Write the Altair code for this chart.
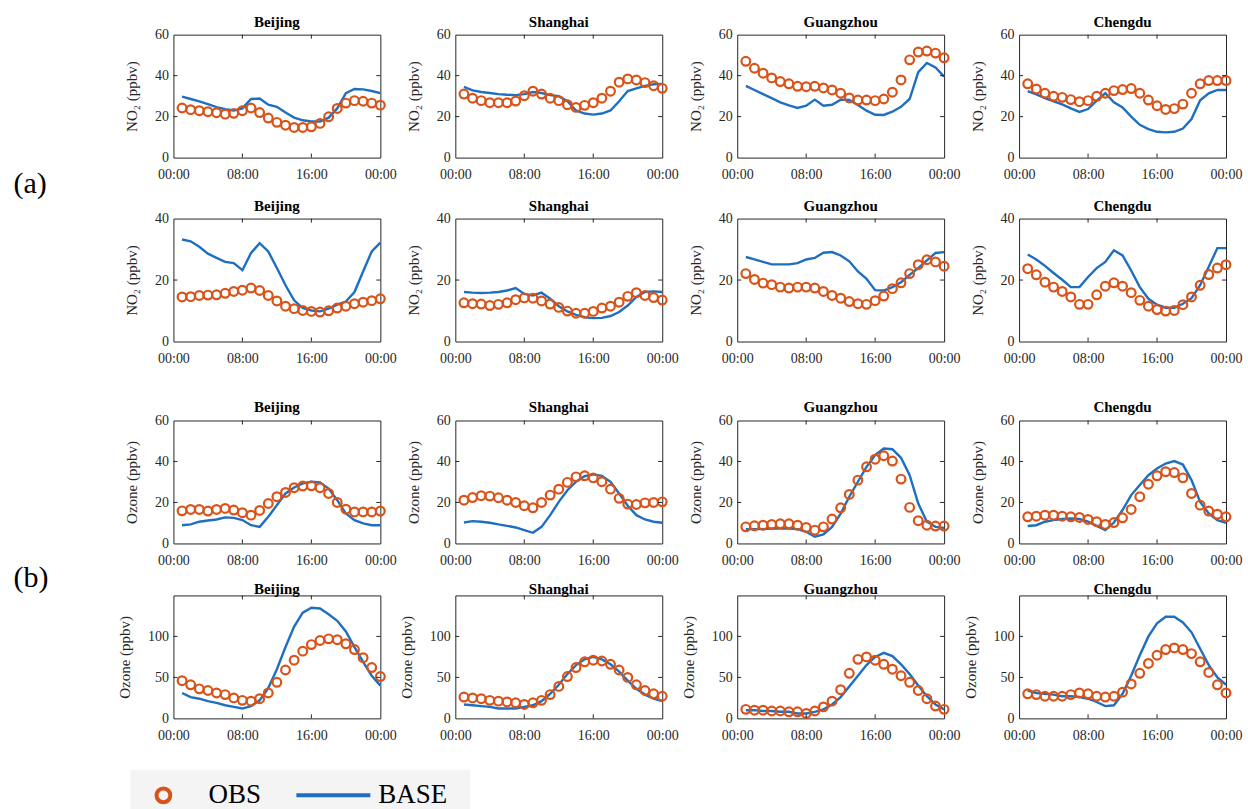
import altair as alt
import pandas as pd

# Hours of the day at which the diurnal means are reported
HOURS = list(range(1, 25))
CITIES = ["Beijing", "Shanghai", "Guangzhou", "Chengdu"]

# ---- (a) NO2, first season -------------------------------------------------
bj1_obs = [24.2, 23.4, 22.9, 22.4, 21.9, 21.2, 21.6, 22.9, 24.2, 22.0, 19.3, 17.2,
           15.8, 14.7, 14.7, 15.0, 16.7, 19.9, 24.0, 26.6, 27.8, 27.5, 26.6, 25.6]
bj1_base = [29.8, 28.6, 27.4, 26.1, 24.6, 23.6, 23.0, 24.0, 28.6, 28.8, 25.8, 24.8,
            22.0, 19.5, 18.2, 17.6, 17.6, 19.5, 24.0, 31.5, 33.5, 33.3, 32.5, 31.5]
sh1_obs = [31.0, 29.0, 27.8, 26.8, 26.8, 26.8, 27.6, 30.2, 32.4, 31.0, 29.0, 27.8,
           25.8, 24.5, 25.5, 26.8, 29.0, 32.4, 36.8, 38.4, 37.9, 36.6, 35.1, 33.8]
sh1_base = [34.5, 32.8, 32.0, 31.5, 31.0, 30.7, 30.5, 31.0, 32.0, 31.5, 30.5, 30.0,
            27.5, 23.0, 21.5, 21.0, 21.5, 23.0, 27.5, 32.5, 33.8, 35.0, 35.8, 36.0]
gz1_obs = [47.0, 43.6, 41.2, 38.9, 37.1, 36.0, 34.8, 34.6, 34.8, 34.0, 33.0, 31.4,
           29.1, 28.1, 28.1, 27.8, 28.6, 31.9, 37.9, 47.7, 51.5, 52.0, 51.0, 48.7]
gz1_base = [35.0, 33.0, 31.0, 29.0, 27.0, 25.5, 24.2, 25.3, 28.3, 25.3, 25.8, 28.3,
            28.1, 25.7, 22.9, 20.9, 20.8, 22.4, 24.8, 28.6, 41.7, 46.2, 44.0, 39.5]
cd1_obs = [36.0, 33.5, 31.4, 29.9, 29.4, 28.3, 27.3, 27.8, 29.9, 31.4, 32.7, 33.2,
           33.7, 31.4, 28.1, 25.3, 23.5, 23.9, 26.1, 31.4, 36.0, 37.6, 37.6, 37.6]
cd1_base = [32.4, 30.8, 29.0, 27.5, 26.0, 24.0, 22.3, 23.7, 27.8, 31.4, 27.0, 24.5,
            20.0, 16.0, 13.9, 12.6, 12.3, 12.6, 14.2, 18.8, 28.0, 31.4, 33.0, 33.0]

# ---- (a) NO2, second season ------------------------------------------------
bj2_obs = [14.5, 14.6, 15.0, 15.1, 15.2, 15.7, 16.3, 16.7, 17.4, 16.6, 15.0, 13.2,
           11.5, 10.7, 10.1, 9.8, 9.6, 10.0, 10.9, 11.5, 12.3, 12.8, 13.3, 13.9]
bj2_base = [33.2, 32.6, 30.8, 28.6, 27.2, 25.9, 25.5, 23.2, 28.8, 32.0, 29.3, 23.9,
            18.3, 13.4, 10.9, 10.1, 9.8, 10.7, 12.0, 13.0, 16.1, 22.8, 29.3, 32.2]
sh2_obs = [12.6, 12.3, 12.2, 11.7, 12.1, 12.6, 13.6, 14.2, 14.1, 13.2, 12.2, 11.1,
           9.9, 9.2, 9.2, 9.8, 10.9, 11.5, 12.8, 14.7, 15.9, 15.0, 14.3, 13.5]
sh2_base = [16.1, 15.9, 15.8, 15.9, 16.1, 16.6, 17.4, 15.5, 15.0, 15.9, 13.9, 11.5,
            9.8, 8.7, 7.9, 7.6, 7.7, 8.3, 9.6, 11.7, 14.5, 16.1, 16.3, 16.1]
gz2_obs = [22.1, 20.2, 19.0, 18.5, 17.7, 17.4, 17.7, 17.7, 17.4, 16.3, 15.0, 14.1,
           13.0, 12.3, 12.1, 13.3, 14.8, 17.2, 19.1, 22.1, 25.0, 26.6, 25.9, 24.5]
gz2_base = [27.5, 26.7, 25.9, 25.1, 25.1, 25.1, 25.5, 26.7, 27.2, 28.9, 29.1, 28.0,
            26.1, 22.8, 20.4, 16.7, 16.6, 17.7, 19.3, 21.7, 23.9, 26.4, 28.8, 29.1]
cd2_obs = [23.7, 21.7, 19.3, 17.7, 16.3, 14.5, 12.1, 12.1, 15.2, 18.0, 19.1, 18.0,
           15.9, 13.4, 11.5, 10.4, 9.9, 10.1, 12.0, 14.5, 18.3, 21.8, 23.9, 25.0]
cd2_base = [28.3, 26.7, 24.6, 22.3, 20.1, 17.7, 17.7, 21.0, 23.9, 25.9, 29.7, 28.0,
            23.1, 17.7, 13.9, 12.0, 11.0, 11.0, 12.3, 14.1, 18.3, 24.3, 30.4, 30.4]

# ---- (b) Ozone, first season -----------------------------------------------
bj3_obs = [15.9, 16.6, 16.6, 15.8, 16.6, 17.1, 16.3, 15.0, 13.8, 16.1, 19.5, 22.8,
           24.9, 27.2, 28.0, 28.1, 27.2, 24.4, 20.0, 16.7, 15.4, 15.4, 15.4, 15.8]
bj3_base = [8.9, 9.3, 10.6, 11.2, 11.7, 12.7, 12.5, 11.4, 8.9, 8.1, 13.0, 18.7,
            24.4, 27.3, 29.3, 30.1, 29.8, 26.8, 21.1, 14.6, 11.4, 9.8, 8.9, 8.9]
sh3_obs = [21.1, 22.4, 23.3, 23.1, 22.3, 21.1, 20.0, 18.4, 17.4, 20.0, 23.6, 26.5,
           29.8, 32.5, 33.0, 32.0, 30.1, 26.5, 22.0, 19.2, 19.0, 19.8, 20.0, 20.3]
sh3_base = [10.2, 10.9, 10.6, 10.1, 9.3, 8.6, 7.8, 6.5, 5.2, 8.1, 13.8, 20.3,
            26.0, 30.1, 32.8, 33.7, 33.0, 30.1, 24.4, 18.4, 13.8, 11.7, 10.6, 10.1]
gz3_obs = [8.1, 8.6, 8.9, 9.3, 9.6, 9.6, 8.9, 7.8, 6.5, 8.1, 11.9, 17.4,
           23.9, 30.9, 37.4, 41.1, 42.8, 40.2, 31.4, 17.6, 11.1, 8.9, 8.5, 8.5]
gz3_base = [7.0, 7.0, 7.0, 7.3, 7.3, 7.3, 7.0, 5.7, 3.3, 4.4, 8.1, 14.6,
            22.8, 30.1, 37.4, 43.1, 46.3, 46.0, 41.8, 33.3, 19.5, 10.6, 8.1, 7.6]
cd3_obs = [13.0, 13.3, 13.8, 13.8, 13.3, 13.0, 12.7, 11.7, 10.6, 9.3, 10.2, 12.5,
           16.6, 22.8, 28.9, 33.0, 35.0, 34.6, 32.0, 24.4, 18.7, 15.8, 14.3, 13.0]
cd3_base = [8.5, 8.9, 10.6, 11.4, 11.9, 12.2, 11.9, 10.6, 8.6, 6.5, 10.2, 16.3,
            23.6, 28.5, 33.3, 36.6, 39.0, 40.2, 38.5, 30.9, 20.3, 14.6, 11.4, 10.1]

# ---- (b) Ozone, second season ----------------------------------------------
bj4_obs = [46, 41, 36, 34, 31, 29, 25, 22, 21, 24, 31, 44,
           59, 71, 82, 90, 95, 97, 96, 91, 84, 74, 62, 51]
bj4_base = [31, 26, 24, 21, 19, 16, 14, 12, 15, 22, 37, 60,
            87, 112, 129, 135, 134, 127, 119, 106, 87, 69, 52, 40]
sh4_obs = [26, 25, 24, 22, 21, 20, 19, 17, 19, 22, 29, 39,
           51, 62, 69, 71, 70, 66, 59, 50, 41, 34, 30, 27]
sh4_base = [17, 16, 15, 14, 12, 12, 12, 14, 16, 21, 30, 41,
            54, 65, 72, 75, 72, 66, 57, 46, 36, 29, 24, 21]
gz4_obs = [11, 10, 10, 9, 9, 8, 8, 6, 9, 14, 21, 35,
           55, 72, 75, 71, 66, 60, 52, 44, 34, 24, 15, 11]
gz4_base = [10, 10, 9, 9, 8, 8, 6, 6, 8, 11, 17, 26,
            39, 52, 65, 75, 80, 76, 66, 54, 40, 27, 17, 11]
cd4_obs = [30, 29, 27, 27, 27, 29, 31, 30, 27, 26, 27, 32,
           42, 55, 67, 77, 84, 86, 84, 79, 69, 56, 41, 31]
cd4_base = [34, 31, 30, 29, 27, 27, 26, 24, 20, 15, 16, 30,
            52, 77, 100, 116, 124, 124, 117, 105, 85, 65, 50, 41]

OBS_COLOR = "#D95319"
BASE_COLOR = "#1F6FC0"
AXIS_COLOR = "#262626"
FONT = "Liberation Serif"
W, H = 207, 123          # plot box of every panel
COL_GAP = 75             # gap between neighbouring plot boxes
ROW_GAP = -250           # large negative gap: each row then starts where the
                         # invisible guide of the row above ends
GUIDE_X = -84            # left edge of the margin column, relative to the spacer

HOUR_LABELS = ("datum.value == 8 ? '08:00' : datum.value == 16 ? '16:00' : '00:00'")
ONE = pd.DataFrame({"k": [0]})


def panel(city, obs, base, ydom, yticks, ytitle):
    df = pd.DataFrame({
        "hour": HOURS * 2,
        "val": list(obs) + list(base),
        "series": ["OBS"] * len(obs) + ["BASE"] * len(base),
    })
    xenc = alt.X("hour:Q", scale=alt.Scale(domain=[0, 24], nice=False, zero=False),
                 axis=alt.Axis(values=[0, 8, 16, 24], labelExpr=HOUR_LABELS, title=None))
    yenc = alt.Y("val:Q", scale=alt.Scale(domain=ydom, nice=False),
                 axis=alt.Axis(values=yticks, title=ytitle))

    line = (alt.Chart(df).transform_filter("datum.series == 'BASE'")
            .mark_line(color=BASE_COLOR, strokeWidth=2.4)
            .encode(x=xenc, y=yenc))
    pts = (alt.Chart(df).transform_filter("datum.series == 'OBS'")
           .mark_point(shape="circle", filled=False, color=OBS_COLOR, size=76,
                       strokeWidth=2.2, opacity=1)
           .encode(x=xenc, y=yenc))

    # inward ticks on all four sides of the box
    xt = pd.DataFrame({"hour": [8, 16]})
    yt = pd.DataFrame({"val": [v for v in yticks if ydom[0] < v < ydom[1]]})
    tick = dict(color=AXIS_COLOR, strokeWidth=1)
    xb = alt.Chart(xt).mark_rule(**tick).encode(x=xenc, y=alt.value(H), y2=alt.value(H - 4))
    xtp = alt.Chart(xt).mark_rule(**tick).encode(x=xenc, y=alt.value(0), y2=alt.value(4))
    yl = alt.Chart(yt).mark_rule(**tick).encode(y=yenc, x=alt.value(0), x2=alt.value(4))
    yr = alt.Chart(yt).mark_rule(**tick).encode(y=yenc, x=alt.value(W), x2=alt.value(W - 4))

    return alt.layer(line, pts, xb, xtp, yl, yr).properties(
        width=W, height=H, title=alt.TitleParams(city, offset=0, dy=2))


def tag(label, dy):
    return (alt.Chart(pd.DataFrame({"t": [label]}))
            .mark_text(align="left", baseline="middle", font=FONT, fontSize=30, color="black")
            .encode(text="t:N", x=alt.value(GUIDE_X), y=alt.value(dy)))


def legend_layers():
    s = pd.DataFrame({"s": ["OBS"]})
    b = pd.DataFrame({"s": ["BASE"]})
    ly = 200
    return [
        alt.Chart(ONE).mark_rect(color="#f4f4f4")
        .encode(x=alt.value(33), x2=alt.value(373), y=alt.value(175), y2=alt.value(214)),
        alt.Chart(s).mark_point(shape="circle", filled=False, color=OBS_COLOR, size=190,
                                strokeWidth=4, opacity=1)
        .encode(x=alt.value(66), y=alt.value(ly)),
        alt.Chart(s).mark_text(align="left", baseline="middle", font=FONT, fontSize=27,
                               color="black")
        .encode(text="s:N", x=alt.value(111), y=alt.value(ly)),
        alt.Chart(b).mark_rule(color=BASE_COLOR, strokeWidth=4)
        .encode(x=alt.value(199), x2=alt.value(273), y=alt.value(ly)),
        alt.Chart(b).mark_text(align="left", baseline="middle", font=FONT, fontSize=27,
                               color="black")
        .encode(text="s:N", x=alt.value(281), y=alt.value(ly)),
    ]


def spacer(bottom_ext, extras=()):
    """Narrow margin column: an invisible guide fixes how far the row reaches
    below its plot boxes (and so where the next row starts); it also carries
    the panel tags and the legend."""
    guide = (alt.Chart(ONE).mark_rule(opacity=0, strokeOpacity=0)
             .encode(x=alt.value(GUIDE_X), y=alt.value(-30),
                     y2=alt.value(H + bottom_ext)))
    return alt.layer(guide, *extras).properties(
        width=1, height=H, view=alt.ViewBackground(stroke="transparent"))


NO2 = "NO\u2082 (ppbv)"
O3 = "Ozone (ppbv)"

row1_data = [(bj1_obs, bj1_base), (sh1_obs, sh1_base), (gz1_obs, gz1_base), (cd1_obs, cd1_base)]
row2_data = [(bj2_obs, bj2_base), (sh2_obs, sh2_base), (gz2_obs, gz2_base), (cd2_obs, cd2_base)]
row3_data = [(bj3_obs, bj3_base), (sh3_obs, sh3_base), (gz3_obs, gz3_base), (cd3_obs, cd3_base)]
row4_data = [(bj4_obs, bj4_base), (sh4_obs, sh4_base), (gz4_obs, gz4_base), (cd4_obs, cd4_base)]


def row(data, ydom, yticks, ytitle, margin):
    panels = [panel(city, o, b, ydom, yticks, ytitle) for city, (o, b) in zip(CITIES, data)]
    return alt.hconcat(margin, *panels, spacing=COL_GAP, bounds="flush")


# row pitch = H + bottom_ext + 1
r1 = row(row1_data, [0, 60], [0, 20, 40, 60], NO2, spacer(60))
r2 = row(row2_data, [0, 40], [0, 20, 40], NO2, spacer(78, [tag("(a)", -35)]))
r3 = row(row3_data, [0, 60], [0, 20, 40, 60], O3, spacer(51))
r4 = row(row4_data, [0, 150], [0, 50, 100], O3, spacer(91, [tag("(b)", -17)] + legend_layers()))

chart = (
    alt.vconcat(r1, r2, r3, r4, spacing=ROW_GAP, bounds="full")
    .properties(padding={"left": 12.5, "top": 3.5, "right": 5, "bottom": 0},
                background="white")
    .configure_view(stroke=AXIS_COLOR, strokeWidth=1)
    .configure_axis(labelFont=FONT, labelFontSize=14, labelColor=AXIS_COLOR,
                    titleFont=FONT, titleFontSize=15, titleFontWeight="normal",
                    titleColor=AXIS_COLOR, ticks=False, domain=False, grid=False)
    .configure_axisX(labelPadding=10, labelFlush=False, labelOverlap=False)
    .configure_axisY(labelPadding=5, titlePadding=15)
    .configure_title(font=FONT, fontSize=15, fontWeight="bold", color="black")
)

chart.save("out.html", embed_options={"renderer": "svg", "actions": False})
